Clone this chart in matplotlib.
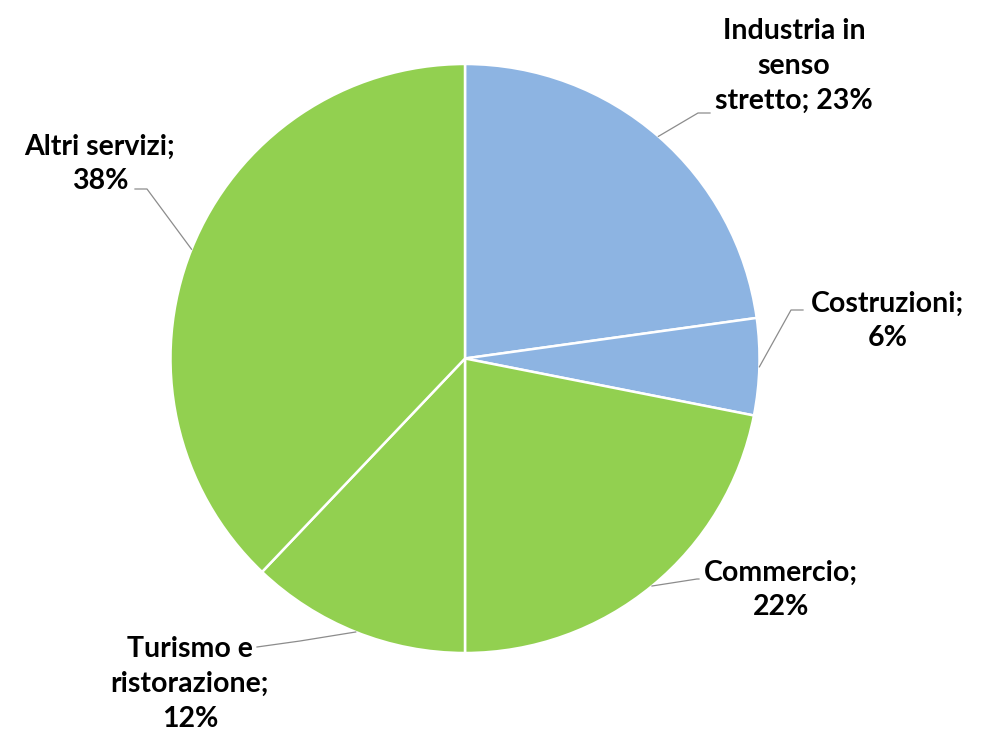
import numpy as np
import matplotlib.pyplot as plt

# quote di occupati per settore (stimate dagli angoli)
settori = ["Industria in senso stretto", "Costruzioni", "Commercio",
           "Turismo e ristorazione", "Altri servizi"]
quote = [22.8, 5.3, 21.9, 12.1, 37.9]
etichette_pct = ["23%", "6%", "22%", "12%", "38%"]
colori = ["#8DB4E2", "#8DB4E2", "#92D050", "#92D050", "#92D050"]

fig = plt.figure(figsize=(9.85, 7.35), dpi=100)
ax = fig.add_axes([0, 0, 1, 1])

cx, cy, r = 465, 735 - 358.5, 294.5
wedges, _ = ax.pie(quote, colors=colori, startangle=90, counterclock=False,
                   center=(cx, cy), radius=r, frame=True,
                   wedgeprops=dict(edgecolor="white", linewidth=1.8))
ax.set_xlim(0, 985)
ax.set_ylim(0, 735)
ax.axis("off")

# testo delle etichette
testi = [
    "Industria in\nsenso\nstretto; " + etichette_pct[0],
    "Costruzioni;\n" + etichette_pct[1],
    "Commercio;\n" + etichette_pct[2],
    "Turismo e\nristorazione;\n" + etichette_pct[3],
    "Altri servizi;\n" + etichette_pct[4],
]
pos_testo = [(794, 66), (888, 321), (781, 590), (190, 684), (100, 164)]
gomiti = [((698, 113), (710, 113)), ((791, 310), (803, 310)),
          ((697, 579), (699, 579)), ((300, 641), (257, 647)),
          ((147, 189), (135, 189))]

for w, t, (tx, ty), (g1, g2) in zip(wedges, testi, pos_testo, gomiti):
    ang = np.deg2rad((w.theta1 + w.theta2) / 2)
    ex = cx + r * np.cos(ang)
    ey = cy + r * np.sin(ang)
    xs = [ex, g1[0], g2[0]]
    ys = [ey, 735 - g1[1], 735 - g2[1]]
    ax.plot(xs, ys, color="#8C8C8C", linewidth=0.9)
    ax.text(tx, 735 - ty, t, ha="center", va="center", fontsize=20.5,
            fontweight="bold", family="Lato", linespacing=1.42, color="black")

fig.savefig("out.png", dpi=100)
